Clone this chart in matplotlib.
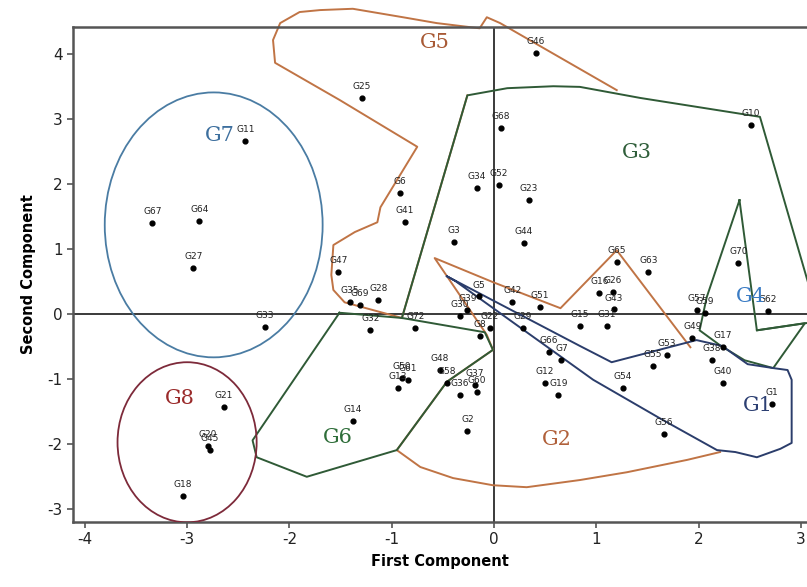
import matplotlib
matplotlib.use("Agg")
import matplotlib.pyplot as plt
from matplotlib.patches import Ellipse

plt.rcParams["axes.unicode_minus"] = False

# ---------------- data ----------------
names = ["G46", "G25", "G11", "G68", "G10", "G34", "G52", "G23", "G6", "G41",
         "G67", "G64", "G27", "G3", "G44", "G65", "G63", "G70", "G47", "G16",
         "G26", "G43", "G15", "G31", "G62", "G57", "G59", "G49", "G17", "G38",
         "G40", "G53", "G55", "G54", "G1", "G56", "G66", "G7", "G12", "G19",
         "G29", "G42", "G51", "G5", "G22", "G30", "G39", "G8", "G72", "G32",
         "G35", "G69", "G28", "G33", "G50", "G61", "G13", "G48", "G58", "G37",
         "G36", "G60", "G2", "G14", "G21", "G20", "G45", "G18"]
pc1 = [0.41, -1.29, -2.43, 0.07, 2.51, -0.17, 0.05, 0.34, -0.92, -0.87,
       -3.34, -2.88, -2.94, -0.39, 0.29, 1.20, 1.51, 2.39, -1.52, 1.03,
       1.16, 1.17, 0.84, 1.10, 2.68, 1.98, 2.06, 1.94, 2.24, 2.13,
       2.24, 1.69, 1.55, 1.26, 2.72, 1.66, 0.54, 0.66, 0.50, 0.63,
       0.28, 0.18, 0.45, -0.15, -0.04, -0.33, -0.26, -0.14, -0.77, -1.21,
       -1.41, -1.31, -1.13, -2.24, -0.90, -0.84, -0.94, -0.53, -0.46, -0.19,
       -0.33, -0.17, -0.26, -1.38, -2.64, -2.80, -2.78, -3.04]
pc2 = [4.01, 3.32, 2.66, 2.86, 2.90, 1.94, 1.98, 1.75, 1.86, 1.41,
       1.40, 1.43, 0.71, 1.11, 1.09, 0.80, 0.65, 0.78, 0.65, 0.33,
       0.34, 0.07, -0.18, -0.18, 0.05, 0.06, 0.01, -0.37, -0.51, -0.71,
       -1.06, -0.63, -0.80, -1.14, -1.38, -1.84, -0.58, -0.71, -1.06, -1.24,
       -0.21, 0.18, 0.11, 0.27, -0.22, -0.03, 0.06, -0.34, -0.22, -0.25,
       0.18, 0.14, 0.22, -0.20, -0.98, -1.01, -1.14, -0.86, -1.06, -1.09,
       -1.24, -1.20, -1.80, -1.64, -1.43, -2.02, -2.09, -2.80]

# group outlines (PC1, PC2)
g5_x = [1.20, 0.06, -0.07, -0.14, -0.56, -0.89, -1.38, -1.70, -1.90, -2.09, -2.16, -2.14,
        -1.51, -0.75, -1.11, -1.14, -1.36, -1.57, -1.59, -1.57, -1.46, -0.90, -0.26]
g5_y = [3.44, 4.47, 4.56, 4.39, 4.47, 4.56, 4.69, 4.67, 4.64, 4.47, 4.21, 3.86,
        3.29, 2.57, 1.64, 1.41, 1.26, 1.06, 0.60, 0.37, 0.18, -0.06, 3.36]
g3_x = [-0.90, -0.26, 0.13, 0.58, 0.84, 1.43, 2.60, 3.18, 2.57]
g3_y = [-0.06, 3.36, 3.47, 3.50, 3.49, 3.32, 3.03, -0.11, -0.25]
g4_x = [2.40, 2.57, 3.04, 2.73, 2.45, 2.21, 2.01, 2.08, 2.40]
g4_y = [1.75, -0.25, -0.14, -0.83, -0.71, -0.48, -0.25, 0.26, 1.75]
g1_x = [-0.46, 0.84, 1.15, 1.98, 2.23, 2.48, 2.73, 2.87, 2.91, 2.91, 2.80, 2.57,
        2.36, 2.18, 1.62, 0.97, 0.25, -0.38, -0.46]
g1_y = [0.58, -0.49, -0.74, -0.40, -0.49, -0.77, -0.83, -0.86, -1.01, -1.98, -2.07, -2.20,
        -2.12, -2.09, -1.60, -1.01, -0.20, 0.51, 0.58]
g2_x = [1.92, 1.20, 0.65, -0.01, -0.58, -0.07, -0.01, -0.46, -0.95, -0.72, -0.40, -0.01,
        0.32, 0.84, 1.30, 1.89, 2.21]
g2_y = [-0.51, 0.98, 0.09, 0.49, 0.86, -0.32, -0.55, -1.04, -2.09, -2.35, -2.52, -2.63,
        -2.66, -2.55, -2.43, -2.24, -2.12]
g6_x = [-1.51, -0.90, -0.09, -0.01, -0.46, -0.95, -1.83, -2.32, -2.36, -1.51]
g6_y = [0.02, -0.06, -0.28, -0.55, -1.04, -2.09, -2.50, -2.20, -1.94, 0.02]

# ellipses: centre x, centre y, width, height
g7_ell = (-2.74, 1.37, 2.13, 4.07)
g8_ell = (-3.00, -1.97, 1.36, 2.46)

group_names = ["G5", "G7", "G3", "G4", "G1", "G2", "G6", "G8"]
group_pos_x = [-0.72, -2.83, 1.25, 2.36, 2.43, 0.47, -1.67, -3.22]
group_pos_y = [4.17, 2.75, 2.48, 0.27, -1.41, -1.93, -1.90, -1.30]
group_colors = ["#a85a35", "#3d6f9e", "#2f5e3a", "#3b7cc4", "#2c3f72", "#b0603a",
                "#2f6e3a", "#9a2a2a"]

ORANGE = "#c07445"
GREEN = "#2f5a36"
NAVY = "#2b3d6b"

# ---------------- figure ----------------
fig = plt.figure(figsize=(8.07, 5.87), dpi=100)
ax = fig.add_axes([0.0905, 0.1107, 0.9095, 0.8433])
ax.set_xlim(-4.115, 3.06)
ax.set_ylim(-3.195, 4.41)

ax.axhline(0, color="#3a3a3a", lw=1.4, zorder=1)
ax.axvline(0, color="#3a3a3a", lw=1.4, zorder=1)

ax.plot(g5_x, g5_y, color=ORANGE, lw=1.4, clip_on=False, zorder=2)
ax.plot(g2_x, g2_y, color=ORANGE, lw=1.4, zorder=2)
ax.plot(g6_x, g6_y, color=GREEN, lw=1.4, zorder=3)
ax.plot(g3_x, g3_y, color=GREEN, lw=1.4, zorder=3)
ax.plot(g4_x, g4_y, color=GREEN, lw=1.4, zorder=3)
ax.plot(g1_x, g1_y, color=NAVY, lw=1.4, zorder=4)

e7 = Ellipse((g7_ell[0], g7_ell[1]), g7_ell[2], g7_ell[3], fill=False,
             edgecolor="#4a7ca3", lw=1.3, zorder=3)
e8 = Ellipse((g8_ell[0], g8_ell[1]), g8_ell[2], g8_ell[3], fill=False,
             edgecolor="#7d2a3a", lw=1.3, zorder=3)
ax.add_patch(e7)
ax.add_patch(e8)

ax.scatter(pc1, pc2, s=12, color="black", zorder=5)
for n, x, y in zip(names, pc1, pc2):
    ax.annotate(n, (x, y), xytext=(0, 5), textcoords="offset points",
                ha="center", va="bottom", fontsize=6.5, family="DejaVu Sans",
                color="#222222", zorder=6)

for n, x, y, c in zip(group_names, group_pos_x, group_pos_y, group_colors):
    ax.text(x, y, n, fontsize=15, family="DejaVu Serif", color=c,
            ha="left", va="center", zorder=6)

for side in ["left", "bottom", "top"]:
    ax.spines[side].set_color("#555555")
    ax.spines[side].set_linewidth(1.8)
ax.spines["right"].set_visible(False)

ax.set_xticks(range(-4, 4))
ax.set_yticks(range(-3, 5))
ax.tick_params(axis="both", direction="out", length=4, width=1.2, color="#555555",
               labelsize=11, labelcolor="#222222")
ax.set_xlabel("First Component", fontsize=10.5, fontweight="bold", labelpad=5)
ax.set_ylabel("Second Component", fontsize=10.5, fontweight="bold", labelpad=8)

fig.savefig("out.png", dpi=100)
